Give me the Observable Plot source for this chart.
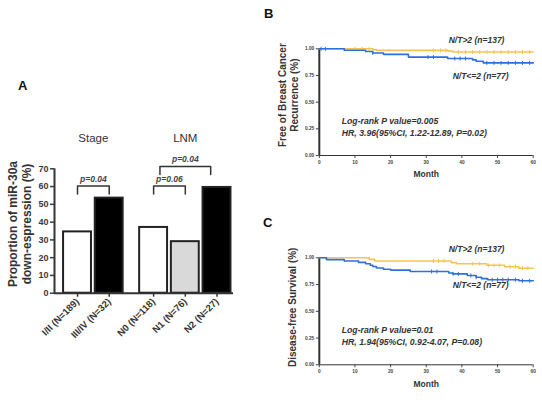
<!DOCTYPE html>
<html>
<head>
<meta charset="utf-8">
<script src="https://cdn.jsdelivr.net/npm/d3@7"></script>
<script src="https://cdn.jsdelivr.net/npm/@observablehq/plot@0.6"></script>
<style>
  body { margin: 0; background: #fff; }
  #fig { position: relative; width: 542px; height: 403px; overflow: hidden;
         font-family: "Liberation Sans", Arial, sans-serif; }
  .panel { position: absolute; }
  .letter { position: absolute; font-weight: bold; font-size: 13px; color: #111; line-height: 15px; }
</style>
</head>
<body>
<div id="fig">
  <div class="letter" style="left:18px;top:78px">A</div>
  <div class="letter" style="left:264px;top:6px">B</div>
  <div class="letter" style="left:263px;top:215px">C</div>
  <div class="panel" id="panelA" style="left:0;top:120px"></div>
  <div class="panel" id="panelB" style="left:270px;top:0"></div>
  <div class="panel" id="panelC" style="left:270px;top:180px"></div>
</div>
<script>
// ---- Panel A: miR-30a down-expression by stage and lymph node metastasis ----
const barGroups = ["Stage", "Stage", "LNM", "LNM", "LNM"];
const barLabels = ["I/II (N=189)", "III/IV (N=32)", "N0 (N=118)", "N1 (N=76)", "N2 (N=27)"];
const downPct = [34.5, 53.5, 37, 29, 59.5];
const pctTicks = [0, 10, 20, 30, 40, 50, 60, 70];
const compFrom = ["I/II (N=189)", "N0 (N=118)", "N0 (N=118)"];
const compTo = ["III/IV (N=32)", "N1 (N=76)", "N2 (N=27)"];
const compP = ["p=0.04", "p=0.06", "p=0.04"];

// ---- Panels B and C: Kaplan-Meier curves by N/T ratio ----
const monthTicks = [0, 10, 20, 30, 40, 50, 60];
const survTicks = [0, 0.25, 0.5, 0.75, 1];
const groupNames = ["N/T>2 (n=137)", "N/T<=2 (n=77)"];

// Free of breast cancer recurrence
const recHighTime = [0, 15, 16, 36, 37.5];
const recHighSurv = [1, 0.992, 0.985, 0.978, 0.970];
const recHighCensor = [10, 12, 14, 32, 34, 35.5, 39, 41, 43, 45, 47, 49, 51, 53, 55, 57, 59];
const recLowTime = [0, 7, 13, 15, 18, 25, 36, 43, 44, 46];
const recLowSurv = [1, 0.987, 0.974, 0.961, 0.948, 0.922, 0.909, 0.896, 0.883, 0.868];
const recLowCensor = [0.5, 1.7, 15, 30.5, 32, 38, 39.5, 41, 47, 49, 51, 53, 55, 57, 59];
const recStats = "Log-rank P value=0.005\nHR, 3.96(95%CI, 1.22-12.89, P=0.02)";

// Disease-free survival
const dfsHighTime = [0, 14, 15.5, 37, 38.5, 47, 52, 56];
const dfsHighSurv = [1, 0.985, 0.970, 0.955, 0.945, 0.930, 0.917, 0.903];
const dfsHighCensor = [32, 33.5, 35, 43, 45, 47.5, 49, 50.5, 53.5, 55, 57, 58.5];
const dfsLowTime = [0, 2, 7, 11, 13, 14.3, 15, 16, 18, 20, 25.5, 36.3, 37.5, 41.5, 44, 45.5, 47.2, 56];
const dfsLowSurv = [1, 0.983, 0.970, 0.957, 0.944, 0.930, 0.918, 0.905, 0.893, 0.885, 0.872, 0.858, 0.850, 0.835, 0.818, 0.805, 0.795, 0.785];
const dfsLowCensor = [31.5, 33, 37.5, 39, 42.5, 44, 48.5, 50, 51.5, 53, 55, 57, 59];
const dfsStats = "Log-rank P value=0.01\nHR, 1.94(95%CI, 0.92-4.07, P=0.08)";

// ---- shared styling ----
const ink = "#333";
const fontFamily = '"Liberation Sans", Arial, sans-serif';
const yellow = "#f6c452";
const blue = "#2c6fe0";

// ---------------- Panel A ----------------
const groupOrder = ["Stage", "LNM"];
const groupGap = 0.4;   // extra space between the two groups, in bar steps
const barHalf = 0.44;   // half bar width, in bar steps
const bars = barLabels.map((label, i) => ({
  label, group: barGroups[i], value: downPct[i],
  pos: i + groupOrder.indexOf(barGroups[i]) * groupGap
}));
const posOf = new Map(bars.map(b => [b.label, b.pos]));
const labelAt = new Map(bars.map(b => [b.pos, b.label]));
const idxOf = new Map(barLabels.map((l, i) => [l, i]));
const brackets = compFrom.map((f, i) => {
  const tier = idxOf.get(compTo[i]) - idxOf.get(f) > 1 ? 1 : 0;
  const inset = tier * 0.2;
  const top = 60.3 + tier * 11;
  return { id: i, x1: posOf.get(f) + inset, x2: posOf.get(compTo[i]) - inset, top, leg: top - 4.5, p: compP[i] };
});
const bracketPath = brackets.flatMap(b => [
  { id: b.id, x: b.x1, y: b.leg }, { id: b.id, x: b.x1, y: b.top },
  { id: b.id, x: b.x2, y: b.top }, { id: b.id, x: b.x2, y: b.leg }
]);
const groupTitles = groupOrder.map(g => ({ group: g, pos: d3.mean(bars.filter(b => b.group === g), b => b.pos) }));
const xDomA = [-0.726, 4.92];

const plotA = Plot.plot({
  width: 245, height: 240,
  marginLeft: 54, marginRight: 12, marginTop: 48.3, marginBottom: 67.3,
  x: { type: "linear", domain: xDomA, axis: null },
  y: { domain: [0, 70], axis: null },
  color: { type: "ordinal", domain: barLabels, range: ["#fff", "#000", "#fff", "#d9d9d9", "#000"] },
  style: { fontFamily, fontWeight: "bold", color: ink, background: "transparent", overflow: "visible" },
  marks: [
    Plot.rectY(bars, { x1: b => b.pos - barHalf, x2: b => b.pos + barHalf, y: "value", fill: "label", stroke: "#222", strokeWidth: 2 }),
    Plot.ruleY([0], { stroke: ink, strokeWidth: 2 }),
    Plot.ruleX([xDomA[0]], { y1: 0, y2: 70, stroke: ink, strokeWidth: 2 }),
    Plot.axisY({ ticks: pctTicks, tickSize: 4, tickPadding: 2, fontSize: 9, color: "#3a3a3a", strokeWidth: 1.5, label: null }),
    Plot.axisX({ ticks: bars.map(b => b.pos), tickFormat: p => labelAt.get(p), tickRotate: -45, tickSize: 4, tickPadding: 3,
                 fontSize: 9.5, color: ink, strokeWidth: 1.5, label: null }),
    Plot.line(bracketPath, { x: "x", y: "y", z: "id", stroke: ink, strokeWidth: 1.5 }),
    Plot.text(brackets, { x: b => (b.x1 + b.x2) / 2, y: "top", text: "p", dy: -4, lineAnchor: "bottom",
                          fontStyle: "italic", fontSize: 8.5, fill: "#444" }),
    Plot.text(groupTitles, { x: "pos", frameAnchor: "top", text: "group", dy: -26.6, lineAnchor: "bottom",
                             fontSize: 11.5, fontWeight: "normal", fill: ink }),
    Plot.text(["Proportion of miR-30a\ndown-espression (%)"], { frameAnchor: "left", textAnchor: "middle", rotate: -90,
                             dx: -35, dy: -7, fontSize: 12, lineHeight: 1.17, fill: ink })
  ]
});
document.getElementById("panelA").append(plotA);

// ---------------- Panels B and C ----------------
const censorTick = {
  draw(context, size) {
    const h = Math.sqrt(size / Math.PI);
    context.moveTo(0, -h);
    context.lineTo(0, h);
  }
};
function steps(times, surv, end) {
  const pts = times.map((t, i) => ({ t, s: surv[i] }));
  pts.push({ t: end, s: surv[surv.length - 1] });
  return pts;
}
function survAt(times, surv, t) {
  let s = surv[0];
  for (let i = 0; i < times.length; i++) if (times[i] <= t) s = surv[i];
  return s;
}
function kmPanel({ highTime, highSurv, highCensor, lowTime, lowSurv, lowCensor, stats, yLabel, labelDx, labelDy,
                   height, marginTop, marginBottom, monthDy }) {
  const end = monthTicks[monthTicks.length - 1];
  const high = steps(highTime, highSurv, end);
  const low = steps(lowTime, lowSurv, end);
  return Plot.plot({
    width: 272, height,
    marginLeft: 48.8, marginRight: 9.3, marginTop, marginBottom,
    x: { domain: [0, end], axis: null },
    y: { domain: [0, 1], axis: null },
    style: { fontFamily, fontWeight: "bold", color: ink, background: "transparent", overflow: "visible" },
    marks: [
      Plot.ruleY([0], { stroke: ink, strokeWidth: 1 }),
      Plot.axisX({ ticks: monthTicks, tickSize: 3, tickPadding: 2, fontSize: 4.8, color: "#444", label: null }),
      Plot.axisY({ ticks: survTicks, tickFormat: d3.format(".2f"), tickSize: 3, tickPadding: 2, fontSize: 4.8, color: "#444", label: null }),
      Plot.ruleX([0], { stroke: ink, strokeWidth: 2 }),
      Plot.text(["Month"], { frameAnchor: "bottom", dy: monthDy, lineAnchor: "bottom", fontSize: 8.5, fill: ink }),
      Plot.line(high, { x: "t", y: "s", curve: "step-after", stroke: yellow, strokeWidth: 1.6 }),
      Plot.dot(highCensor, { x: t => t, y: t => survAt(highTime, highSurv, t), symbol: censorTick, r: 2, stroke: yellow, strokeWidth: 1 }),
      Plot.line(low, { x: "t", y: "s", curve: "step-after", stroke: blue, strokeWidth: 1.6 }),
      Plot.dot(lowCensor, { x: t => t, y: t => survAt(lowTime, lowSurv, t), symbol: censorTick, r: 2, stroke: blue, strokeWidth: 1 }),
      Plot.text([groupNames[0]], { x: 36.3, y: 1.077, textAnchor: "start", fontStyle: "italic", fontSize: 8.5, fill: ink }),
      Plot.text([groupNames[1]], { x: 37.4, y: 0.74, textAnchor: "start", fontStyle: "italic", fontSize: 8.5, fill: ink }),
      Plot.text([stats], { x: 6.3, y: 0.273, textAnchor: "start", fontStyle: "italic", fontSize: 8.7, lineHeight: 1.34, fill: ink }),
      Plot.text([yLabel], { frameAnchor: "left", textAnchor: "middle", rotate: -90, dx: labelDx, dy: labelDy,
                            fontSize: 10, lineHeight: 1.13, fill: ink })
    ]
  });
}

document.getElementById("panelB").append(kmPanel({
  highTime: recHighTime, highSurv: recHighSurv, highCensor: recHighCensor,
  lowTime: recLowTime, lowSurv: recLowSurv, lowCensor: recLowCensor,
  stats: recStats, yLabel: "Free of Breast Cancer\nRecurrence (%)", labelDx: -31, labelDy: -7,
  height: 180, marginTop: 48.3, marginBottom: 25, monthDy: 21.5
}));
document.getElementById("panelC").append(kmPanel({
  highTime: dfsHighTime, highSurv: dfsHighSurv, highCensor: dfsHighCensor,
  lowTime: dfsLowTime, lowSurv: dfsLowSurv, lowCensor: dfsLowCensor,
  stats: dfsStats, yLabel: "Disease-free Survival (%)", labelDx: -26.6, labelDy: -4,
  height: 223, marginTop: 77.3, marginBottom: 38.7, monthDy: 22
}));
</script>
</body>
</html>
